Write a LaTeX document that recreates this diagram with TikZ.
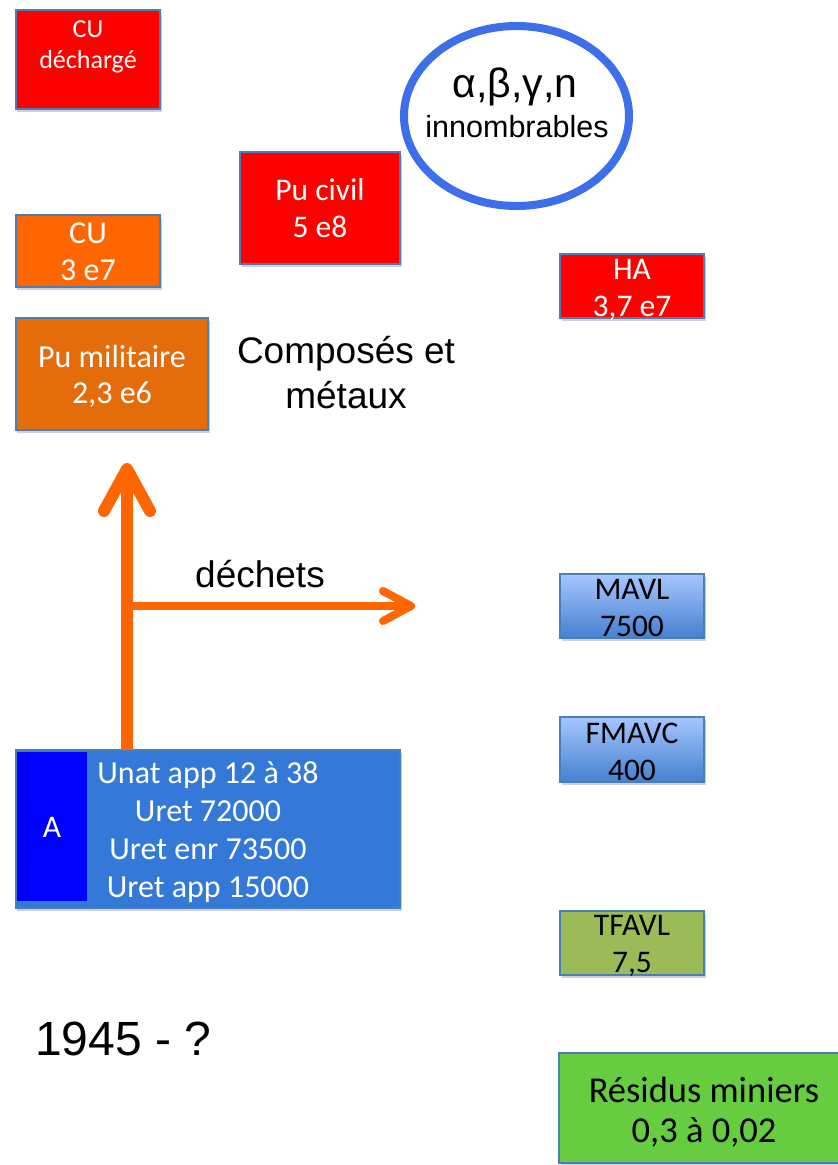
\documentclass[tikz,border=0pt]{standalone}
\usepackage{fontspec}
\setmainfont{Carlito}
\newfontfamily\arialfont{Liberation Sans}
\usetikzlibrary{shapes.geometric,arrows.meta,shadows}

\definecolor{edgeblue}{HTML}{4A7EBB}
\definecolor{boxred}{HTML}{FF0000}
\definecolor{cuorange}{HTML}{FF6600}
\definecolor{puorange}{HTML}{E46C0A}
\definecolor{abox}{HTML}{3479D8}
\definecolor{ainner}{HTML}{0000FF}
\definecolor{ringblue}{HTML}{3D6FEA}
\definecolor{lighttop}{HTML}{A6C6FF}
\definecolor{lightbot}{HTML}{4480CF}
\definecolor{olive}{HTML}{9BBB59}
\definecolor{mine}{HTML}{66CC40}
\definecolor{flow}{HTML}{FF6600}

\tikzset{
  card/.style={draw=edgeblue, line width=1.6bp, rectangle, inner sep=0pt, outer sep=0pt,
    drop shadow={shadow xshift=1.5bp, shadow yshift=-3bp, opacity=.18, fill=black}},
  wtext/.style={text=white, align=center, inner sep=0pt, anchor=base,
    font=\fontsize{31.5bp}{37bp}\selectfont},
  btext/.style={wtext, text=black},
  plain/.style={text=black, align=center, inner sep=0pt, anchor=base},
  flowline/.style={draw=flow, line cap=butt},
}

\begin{document}
\begin{tikzpicture}[x=1bp, y=-1bp]
\useasboundingbox (0,0) rectangle (838,1165);

% stock boxes, left column (text nodes sit on the baseline of their last line)
\node[card, fill=boxred, minimum width=144bp, minimum height=99bp] (cud) at (88,59.5) {};
\node[wtext, font=\fontsize{26bp}{31bp}\selectfont] at (88,68) {CU\\déchargé};

\node[card, fill=cuorange, minimum width=144bp, minimum height=72bp] (cu) at (88,251) {};
\node[wtext, font=\fontsize{32bp}{37bp}\selectfont] at (88,280) {CU\\3 e7};

\node[card, fill=puorange, minimum width=192bp, minimum height=112bp] (pum) at (112,374) {};
\node[wtext, font=\fontsize{32bp}{36bp}\selectfont] at (112,403) {Pu militaire\\2,3 e6};

\node[card, fill=boxred, minimum width=160bp, minimum height=112bp] (puc) at (320,208) {};
\node[wtext] at (320,237) {Pu civil\\5 e8};

% radiation ring
\node[ellipse, draw=ringblue, line width=8bp, fill=white, minimum width=225bp, minimum height=180bp,
      inner sep=0pt,
      drop shadow={shadow xshift=1.5bp, shadow yshift=-3bp, opacity=.12, fill=black}] (rad) at (516.5,116) {};
\node[plain, font=\arialfont\fontsize{41bp}{44bp}\selectfont] at (515,97) {α,β,γ,n};
\node[plain, font=\arialfont\fontsize{30.5bp}{36bp}\selectfont] at (517,137) {innombrables};

\node[plain, font=\arialfont\fontsize{37bp}{45bp}\selectfont] (comp) at (346,408) {Composés et\\métaux};

% waste categories, right column
\node[card, fill=boxred, minimum width=144bp, minimum height=64bp] (ha) at (632,286) {};
\node[wtext] at (632,316) {HA\\3,7 e7};

\node[card, top color=lighttop, bottom color=lightbot, minimum width=144bp, minimum height=64bp] (mavl) at (632,606) {};
\node[btext] at (632,636) {MAVL\\7500};

\node[card, top color=lighttop, bottom color=lightbot, minimum width=144bp, minimum height=65bp] (fmavc) at (632,749.5) {};
\node[btext] at (632,780) {FMAVC\\400};

\node[card, fill=olive, minimum width=144bp, minimum height=64bp] (tfavl) at (632,943) {};
\node[btext] at (632,972) {TFAVL\\7,5};

\node[card, fill=mine, minimum width=291bp, minimum height=110bp] (res) at (704.5,1108) {};
\node[btext, font=\fontsize{36.5bp}{40bp}\selectfont] at (704,1142) {Résidus miniers\\0,3 à 0,02};

% uranium source block
\node[card, fill=abox, minimum width=384bp, minimum height=158bp] (a) at (208,829) {};
\node[rectangle, fill=ainner, inner sep=0pt, minimum width=70bp, minimum height=149bp] (ain) at (52,826.5) {};
\node[wtext] at (ain.center |- 0,837) {A};
\node[wtext, font=\fontsize{32bp}{38bp}\selectfont] at (208,897)
  {Unat app 12 à 38\\Uret 72000\\Uret enr 73500\\Uret app 15000};

% flows
\coordinate (uptip) at (127,463);
\coordinate (branch) at (127,606);
\coordinate (wastetip) at (415,606);
\draw[flowline, line width=12bp, -{Straight Barb[length=42bp, width=46bp, round]}]
  (uptip |- a.north) -- (uptip);
\draw[flowline, line width=8bp, -{Straight Barb[length=28bp, width=30bp, round]}]
  (branch) -- (wastetip);
\node[plain, font=\arialfont\fontsize{37bp}{40bp}\selectfont] (dech) at (260,587) {déchets};

\node[plain, anchor=base west, font=\arialfont\fontsize{48bp}{52bp}\selectfont] (date) at (35,1055) {1945 - ?};
\end{tikzpicture}
\end{document}
